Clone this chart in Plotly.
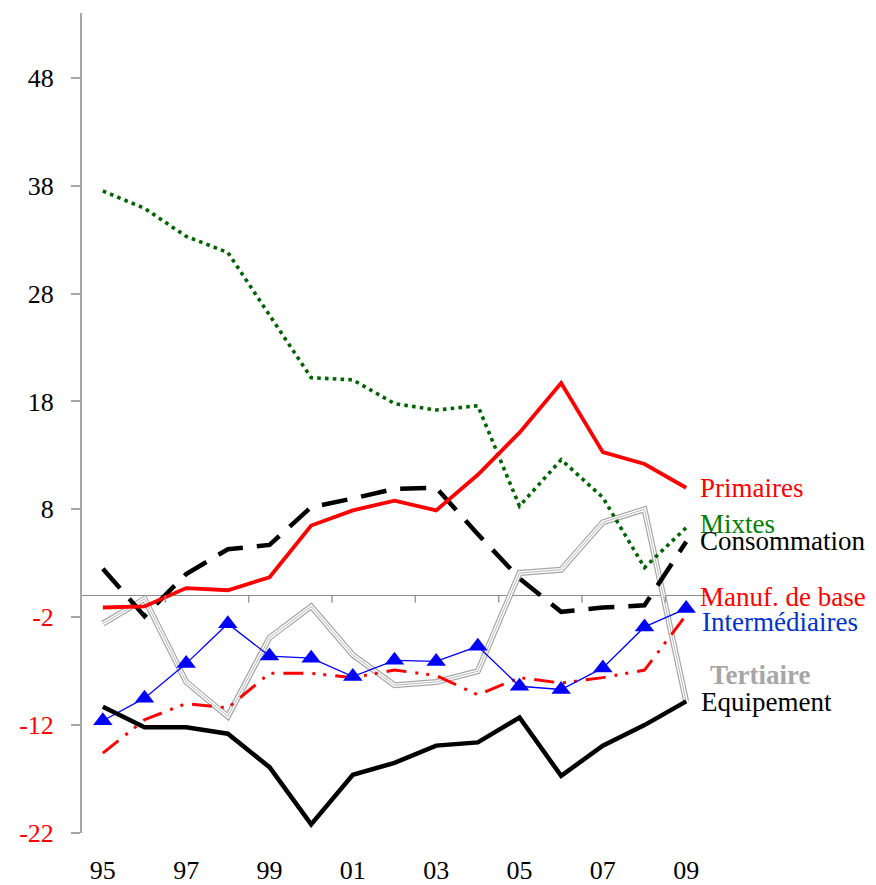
import plotly.graph_objects as go

years = list(range(1995, 2010))
year_labels = ["95", "97", "99", "01", "03", "05", "07", "09"]

primaires = [-1.1, -1.0, 0.7, 0.5, 1.7, 6.5, 7.9, 8.8, 7.9, 11.2, 15.1, 19.7, 13.3, 12.2, 10.0]
mixtes = [37.5, 35.9, 33.3, 31.8, 26.0, 20.2, 20.0, 17.8, 17.2, 17.6, 8.3, 12.6, 9.1, 2.6, 6.3]
consommation = [2.5, -1.9, 2.0, 4.3, 4.7, 8.2, 9.0, 9.9, 10.0, 5.7, 1.6, -1.5, -1.1, -0.9, 5.0]
manuf_base = [-14.6, -11.5, -10.0, -10.4, -7.2, -7.2, -7.6, -6.9, -7.4, -9.2, -7.6, -8.1, -7.6, -6.9, -1.8]
intermediaires = [-11.6, -9.5, -6.3, -2.6, -5.6, -5.8, -7.5, -6.0, -6.1, -4.7, -8.4, -8.7, -6.7, -2.9, -1.2]
tertiaire = [-2.6, -0.3, -8.0, -11.2, -3.9, -1.0, -5.5, -8.3, -8.0, -7.0, 2.1, 2.4, 6.8, 8.0, -9.8]
equipement = [-10.3, -12.2, -12.2, -12.8, -15.9, -21.2, -16.6, -15.5, -13.9, -13.6, -11.3, -16.7, -13.9, -12.0, -9.8]

y_ticks = [-22, -12, -2, 8, 18, 28, 38, 48]

FONT = "Liberation Serif"
fig = go.Figure()

# Tertiaire: double gray line
fig.add_trace(go.Scatter(x=years, y=tertiaire, mode="lines",
                         line=dict(color="#a6a6a6", width=6), hoverinfo="skip"))
fig.add_trace(go.Scatter(x=years, y=tertiaire, mode="lines",
                         line=dict(color="#ffffff", width=3.6), hoverinfo="skip"))
fig.add_trace(go.Scatter(x=years, y=tertiaire, mode="lines",
                         line=dict(color="#b8b8b8", width=1), name="Tertiaire"))

fig.add_trace(go.Scatter(x=years, y=mixtes, mode="lines", name="Mixtes",
                         line=dict(color="#006400", width=3.6, dash="3.6px,4.2px")))
fig.add_trace(go.Scatter(x=years, y=consommation, mode="lines", name="Consommation",
                         line=dict(color="#000000", width=4.5, dash="26px,14px")))
fig.add_trace(go.Scatter(x=years, y=manuf_base, mode="lines", name="Manuf. de base",
                         line=dict(color="#ff0000", width=3, dash="20px,9px,3px,8px,3px,9px")))
fig.add_trace(go.Scatter(x=years, y=intermediaires, mode="lines+markers", name="Intermédiaires",
                         line=dict(color="#0000ff", width=1.3),
                         marker=dict(symbol="triangle-up", size=17, color="#0000ff")))
fig.add_trace(go.Scatter(x=years, y=equipement, mode="lines", name="Equipement",
                         line=dict(color="#000000", width=4.5)))
fig.add_trace(go.Scatter(x=years, y=primaires, mode="lines", name="Primaires",
                         line=dict(color="#ff0000", width=3.8)))

# tick marks on the zero line at category boundaries (every 2 categories)
for v in years[1:-1:2]:
    fig.add_shape(type="line", xref="x", yref="y", x0=v + 0.5, x1=v + 0.5,
                  ysizemode="pixel", yanchor=0, y0=0, y1=-7,
                  line=dict(color="#9a9a9a", width=1.5))

ytext = [f"<span style='color:#ff0000'>{t}</span>" if t < 0 else str(t) for t in y_ticks]

labels = [
    ("Primaires", 9.96, "#ff0000", False, -9),
    ("Mixtes", 6.65, "#008000", False, -9),
    ("Consommation", 5.07, "#000000", False, -9),
    ("Manuf. de base", -0.15, "#ff0000", False, -9),
    ("Intermédiaires", -2.47, "#0033cc", False, -7),
    ("Tertiaire", -7.39, "#a6a6a6", True, 1),
    ("Equipement", -9.83, "#000000", False, -8),
]
for text, yv, col, bold, xs in labels:
    fig.add_annotation(x=1, xref="paper", y=yv, yref="y", xanchor="left", yanchor="middle",
                       xshift=xs, showarrow=False,
                       text=f"<b>{text}</b>" if bold else text,
                       font=dict(family=FONT, size=27, color=col))

# page body has an 8px margin, so the figure is drawn 8px smaller and offset
fig.update_layout(
    width=868, height=877,
    margin=dict(l=74, r=169, t=5, b=52, autoexpand=False),
    paper_bgcolor="white", plot_bgcolor="white",
    showlegend=False,
    font=dict(family=FONT, size=26, color="#000000"),
    xaxis=dict(range=[1994.5, 2009.5], tickvals=years[::2], ticktext=year_labels,
               showgrid=False, showline=False, zeroline=False, ticks="",
               automargin=False,
               ticklabelstandoff=19, tickfont=dict(family=FONT, size=26)),
    yaxis=dict(range=[-22, 54], tickvals=y_ticks, ticktext=ytext,
               showgrid=False, showline=True, linecolor="#a6a6a6", linewidth=2,
               ticks="outside", ticklen=9, tickcolor="#a6a6a6", tickwidth=1.5,
               zeroline=True, zerolinecolor="#8c8c8c", zerolinewidth=1.4,
               automargin=False,
               ticklabelstandoff=12, tickfont=dict(family=FONT, size=26)),
)

fig.write_html("out.html")
